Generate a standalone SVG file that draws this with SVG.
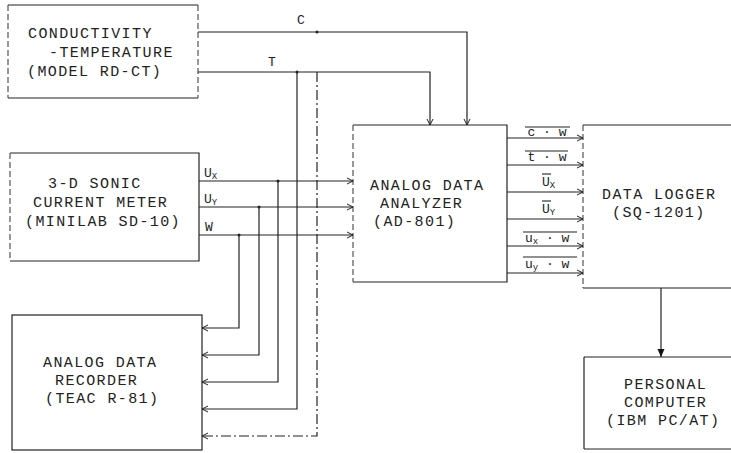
<svg xmlns="http://www.w3.org/2000/svg" width="731" height="453" viewBox="0 0 731 453">
<style>
.bx{fill:none;stroke:#222;stroke-width:1.2}
.ed{fill:none;stroke:#444;stroke-width:1.1;stroke-dasharray:6 3}
.t{font-family:"Liberation Mono","Courier New",monospace;font-size:15px;fill:#222;letter-spacing:1.4px}
.s{font-family:"Liberation Mono","Courier New",monospace;font-size:13px;fill:#222}
.sub{font-size:9px}
.c{fill:none;stroke:#222;stroke-width:1.2}
.ol{stroke:#222;stroke-width:1.1}
</style>
<defs>
<marker id="a" markerUnits="userSpaceOnUse" markerWidth="10" markerHeight="10" refX="7" refY="4" orient="auto">
<path d="M1,1 L7,4 L1,7" fill="none" stroke="#222" stroke-width="1"/>
</marker>
<marker id="f" markerUnits="userSpaceOnUse" markerWidth="10" markerHeight="10" refX="8" refY="4" orient="auto">
<path d="M0,0.5 L8,4 L0,7.5 Z" fill="#111"/>
</marker>
</defs>
<rect width="731" height="453" fill="#fff"/>

<g id="ct">
<path class="bx" d="M8,5 H198 M8,98 H198"/>
<path class="ed" d="M8,5 V98 M198,5 V98"/>
<text class="t" x="28" y="38">CONDUCTIVITY</text>
<text class="t" x="49" y="57">-TEMPERATURE</text>
<text class="t" x="27" y="76">(MODEL RD-CT)</text>
</g>

<g id="sonic">
<path class="bx" d="M10,153 H199 V261 H10"/>
<path class="ed" d="M10,153 V261"/>
<text class="t" x="48" y="188">3-D SONIC</text>
<text class="t" x="33" y="207">CURRENT METER</text>
<text class="t" x="25" y="226">(MINILAB SD-10)</text>
</g>

<g id="recorder">
<rect class="bx" x="12" y="315" width="190" height="135"/>
<text class="t" x="43" y="367">ANALOG DATA</text>
<text class="t" x="55" y="385">RECORDER</text>
<text class="t" x="45" y="403">(TEAC R-81)</text>
</g>

<g id="analyzer">
<path class="bx" d="M353,125 H507 V282 H353"/>
<path class="ed" d="M353,125 V282"/>
<text class="t" x="370" y="190">ANALOG DATA</text>
<text class="t" x="380" y="208">ANALYZER</text>
<text class="t" x="373" y="226">(AD-801)</text>
</g>

<g id="logger">
<path class="bx" d="M583,125 H735 M583,288 H735"/>
<path class="ed" d="M583,125 V288"/>
<text class="t" x="602" y="199">DATA LOGGER</text>
<text class="t" x="612" y="217">(SQ-1201)</text>
</g>

<g id="pc">
<path class="bx" d="M584,357 H735 M584,449 H735 M584,357 V449"/>
<text class="t" x="624" y="389">PERSONAL</text>
<text class="t" x="624" y="407">COMPUTER</text>
<text class="t" x="606" y="425">(IBM  PC/AT)</text>
</g>

<g id="connectors">
<path class="c" d="M198,32 H467 V125" marker-end="url(#a)"/>
<path class="c" d="M198,72 H430 V125" marker-end="url(#a)"/>
<path class="c" d="M199,181 H353" marker-end="url(#a)"/>
<path class="c" d="M199,207 H353" marker-end="url(#a)"/>
<path class="c" d="M199,235 H353" marker-end="url(#a)"/>
<path class="c" d="M239,235 V328 H202" marker-end="url(#a)"/>
<path class="c" d="M259,207 V355 H202" marker-end="url(#a)"/>
<path class="c" d="M278,181 V382 H202" marker-end="url(#a)"/>
<path class="c" d="M297,72 V409 H202" stroke="#555" marker-end="url(#a)"/>
<path class="c" d="M317,72 V436 H202" stroke-dasharray="10 3 2 3" marker-end="url(#a)"/>
<circle cx="239" cy="235" r="1.5" fill="#222"/>
<circle cx="259" cy="207" r="1.5" fill="#222"/>
<circle cx="278" cy="181" r="1.5" fill="#222"/>
<circle cx="297" cy="72" r="1.5" fill="#222"/>
<circle cx="317" cy="32" r="1.5" fill="#222"/>
<path class="c" d="M507,138 H583" marker-end="url(#a)"/>
<path class="c" d="M507,165 H583" marker-end="url(#a)"/>
<path class="c" d="M507,192 H583" marker-end="url(#a)"/>
<path class="c" d="M507,219 H583" marker-end="url(#a)"/>
<path class="c" d="M507,246 H583" marker-end="url(#a)"/>
<path class="c" d="M507,273 H583" marker-end="url(#a)"/>
<path class="c" d="M661,288 V357" stroke-width="1.6" marker-end="url(#f)"/>
</g>

<g id="labels">
<text class="s" x="297" y="24">C</text>
<text class="s" x="268" y="66">T</text>
<text class="s" x="204" y="177">U<tspan class="sub" dy="2">X</tspan></text>
<text class="s" x="204" y="203">U<tspan class="sub" dy="2">Y</tspan></text>
<text class="s" x="205" y="231">W</text>

<line class="ol" x1="525" y1="127" x2="570" y2="127"/>
<text class="s" x="547" y="136" text-anchor="middle">c · w</text>
<line class="ol" x1="525" y1="151" x2="568" y2="151"/>
<text class="s" x="547" y="161" text-anchor="middle">t · w</text>
<line class="ol" x1="542" y1="174" x2="551" y2="174"/>
<text class="s" x="542" y="186">U<tspan class="sub" dy="2">X</tspan></text>
<line class="ol" x1="542" y1="201" x2="551" y2="201"/>
<text class="s" x="542" y="213">U<tspan class="sub" dy="2">Y</tspan></text>
<line class="ol" x1="523" y1="232" x2="577" y2="232"/>
<text class="s" x="525" y="242">u<tspan class="sub" dy="2">x</tspan><tspan dy="-2"> · w</tspan></text>
<line class="ol" x1="523" y1="257" x2="577" y2="257"/>
<text class="s" x="525" y="268">u<tspan class="sub" dy="2">y</tspan><tspan dy="-2"> · w</tspan></text>
</g>
</svg>
